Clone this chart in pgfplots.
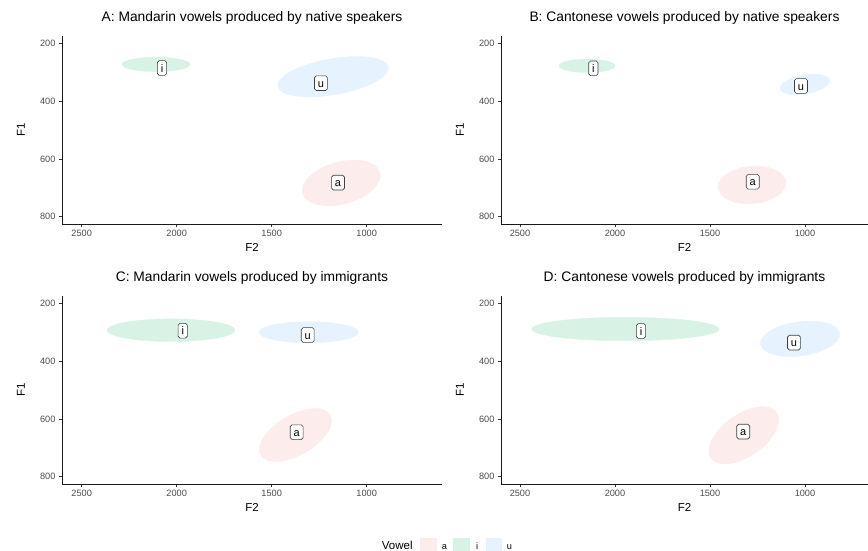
\documentclass[border=0pt]{standalone}
\usepackage{fontspec}
\setmainfont{Liberation Sans}
\usepackage{pgfplots}
\pgfplotsset{compat=1.18}
\definecolor{ca}{HTML}{FDECEC}
\definecolor{ci}{HTML}{D9F2E6}
\definecolor{cu}{HTML}{E6F2FD}
\definecolor{tk}{HTML}{4D4D4D}
\pgfplotsset{
 panel/.style={
  scale only axis, height=188pt, anchor=south west,
  x dir=reverse, y dir=reverse,
  ymin=174.7, ymax=825.2,
  xtick={1000,1500,2000,2500}, ytick={200,400,600,800},
  axis x line*=bottom, axis y line*=left,
  axis line style={line width=0.9pt, color=black!90},
  tick align=outside, major tick length=3pt,
  every tick/.style={line width=0.8pt, color=black!80},
  tick label style={font=\fontsize{9.2}{10}\selectfont, text=tk},
  /pgf/number format/assume math mode=true,
  /pgf/number format/set thousands separator={},
  xlabel={F2}, ylabel={F1},
  label style={font=\fontsize{11.5}{12}\selectfont, inner sep=0pt},
  xlabel style={at={(0.5,-0.1234)}, anchor=center},
  title style={font=\fontsize{13.8}{14}\selectfont, at={(0.5,1)}, anchor=base, yshift=8.7pt, inner sep=0pt},
 },
 ell/.style={only marks, mark=*, color=#1},
 labs/.style={mark=none, draw=none, nodes near coords, point meta=explicit symbolic,
   nodes near coords style={anchor=center, draw=black!75, fill=white, rounded corners=1.8pt,
   line width=0.6pt, inner xsep=3.4pt, inner ysep=3.2pt, text height=8.3pt, text depth=0pt,
   font=\fontsize{11}{11}\selectfont, text=black}},
}
\begin{document}
\begin{tikzpicture}
\path[use as bounding box] (0pt,0pt) rectangle (868pt,551pt);
% Panel A
\begin{axis}[panel, at={(62pt,327pt)}, width=380pt, xmin=603.7, xmax=2603.7,
  ylabel style={at={(-0.108,0.5)}, anchor=center},
  title={A: Mandarin vowels produced by native speakers}]
\addplot[ell=ci, mark size=7.2pt, mark options={rotate=0, xscale=4.722}] coordinates {(2109,273)};
\addplot[ell=cu, mark size=18pt, mark options={rotate=10, xscale=3.111}] coordinates {(1177,315.5)};
\addplot[ell=ca, mark size=21pt, mark options={rotate=15, xscale=1.905}] coordinates {(1134,683)};
\addplot[labs] table[row sep=\\, meta=lab] {x y lab\\ 2077 285.4 i\\ 1240.6 338 u\\ 1151 682 a\\};
\end{axis}
% Panel B
\begin{axis}[panel, at={(501pt,327pt)}, width=367pt, xmin=668.4, xmax=2600,
  ylabel style={at={(-0.1117,0.5)}, anchor=center},
  title={B: Cantonese vowels produced by native speakers}]
\addplot[ell=ci, mark size=6.8pt, mark options={rotate=0, xscale=4.118}] coordinates {(2147,278)};
\addplot[ell=cu, mark size=9.5pt, mark options={rotate=10, xscale=2.632}] coordinates {(1000,342.5)};
\addplot[ell=ca, mark size=18.6pt, mark options={rotate=5, xscale=1.828}] coordinates {(1279,690)};
\addplot[labs] table[row sep=\\, meta=lab] {x y lab\\ 2114 286.5 i\\ 1021 347.7 u\\ 1275 679 a\\};
\end{axis}
% Panel C
\begin{axis}[panel, at={(62pt,67pt)}, width=380pt, xmin=603.7, xmax=2603.7,
  ylabel style={at={(-0.108,0.5)}, anchor=center},
  title={C: Mandarin vowels produced by immigrants}]
\addplot[ell=ci, mark size=11.3pt, mark options={rotate=0, xscale=5.664}] coordinates {(2030,293)};
\addplot[ell=cu, mark size=10.5pt, mark options={rotate=0, xscale=4.733}] coordinates {(1305,300)};
\addplot[ell=ca, mark size=20pt, mark options={rotate=30, xscale=2.0}] coordinates {(1375,655.7)};
\addplot[labs] table[row sep=\\, meta=lab] {x y lab\\ 1968 294.8 i\\ 1310.5 309.7 u\\ 1368.5 646 a\\};
\end{axis}
% Panel D
\begin{axis}[panel, at={(501pt,67pt)}, width=367pt, xmin=668.4, xmax=2600,
  ylabel style={at={(-0.1117,0.5)}, anchor=center},
  title={D: Cantonese vowels produced by immigrants}]
\addplot[ell=ci, mark size=11.7pt, mark options={rotate=0, xscale=8.017}] coordinates {(1945,289)};
\addplot[ell=cu, mark size=17pt, mark options={rotate=8, xscale=2.353}] coordinates {(1026,322.8)};
\addplot[ell=ca, mark size=21pt, mark options={rotate=35, xscale=1.905}] coordinates {(1322,656.7)};
\addplot[labs] table[row sep=\\, meta=lab] {x y lab\\ 1863 295.8 i\\ 1058 336 u\\ 1325 644 a\\};
\end{axis}
% Legend
\node[anchor=base west, inner sep=0pt, font=\fontsize{11.5}{12}\selectfont] at (381.7pt,1pt) {Vowel};
\fill[ca] (420pt,12.7pt) rectangle (436.5pt,-6pt);
\fill[ci] (453pt,12.7pt) rectangle (469.5pt,-6pt);
\fill[cu] (485.5pt,12.7pt) rectangle (502pt,-6pt);
\node[anchor=base west, inner sep=0pt, font=\fontsize{9.2}{10}\selectfont] at (441.7pt,1pt) {a};
\node[anchor=base west, inner sep=0pt, font=\fontsize{9.2}{10}\selectfont] at (476pt,1pt) {i};
\node[anchor=base west, inner sep=0pt, font=\fontsize{9.2}{10}\selectfont] at (506.7pt,1pt) {u};
\end{tikzpicture}
\end{document}
